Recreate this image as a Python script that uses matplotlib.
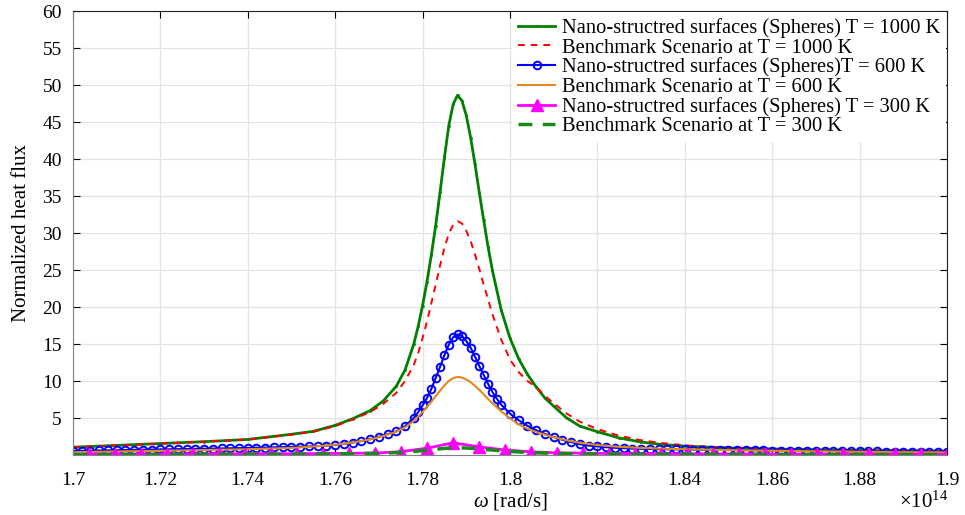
import numpy as np
import matplotlib
matplotlib.use("Agg")
import matplotlib.pyplot as plt

# frequency axis in units of 1e14 rad/s
omega = [1.700, 1.710, 1.720, 1.730, 1.740, 1.750, 1.755, 1.760, 1.764, 1.768,
         1.771, 1.774, 1.776, 1.778, 1.779, 1.780, 1.781, 1.782, 1.783, 1.784,
         1.785, 1.786, 1.787, 1.788, 1.789, 1.790, 1.791, 1.792, 1.793, 1.794,
         1.795, 1.796, 1.798, 1.800, 1.802, 1.804, 1.806, 1.808, 1.810, 1.813,
         1.816, 1.820, 1.825, 1.830, 1.835, 1.840, 1.850, 1.860, 1.870, 1.880,
         1.890, 1.900]

nano_1000 = [1.05, 1.3, 1.55, 1.8, 2.1, 2.8, 3.2, 4.0, 4.9, 6.0,
             7.3, 9.3, 11.5, 15.0, 17.4, 20.2, 23.4, 27.0, 31.0, 35.5,
             40.2, 44.5, 47.4, 48.6, 47.9, 45.9, 42.9, 39.3, 35.4, 31.7,
             28.1, 24.9, 19.6, 15.8, 13.0, 10.9, 9.2, 7.7, 6.6, 5.0,
             3.9, 3.15, 2.3, 1.75, 1.4, 1.2, 0.95, 0.8, 0.7, 0.6,
             0.55, 0.5]

bench_1000 = [1.05, 1.3, 1.55, 1.8, 2.1, 2.75, 3.15, 3.9, 4.8, 5.8,
              6.9, 8.4, 10.0, 12.2, 13.8, 15.8, 18.0, 20.5, 23.0, 25.6,
              28.0, 29.9, 31.1, 31.6, 31.3, 30.3, 28.9, 27.1, 25.1, 23.0,
              21.0, 19.0, 15.6, 12.9, 11.2, 10.0, 9.2, 8.0, 7.0, 5.6,
              4.5, 3.5, 2.6, 2.0, 1.6, 1.3, 1.0, 0.85, 0.72, 0.62,
              0.56, 0.5]

bench_600 = [0.38, 0.48, 0.57, 0.67, 0.78, 0.95, 1.15, 1.38, 1.7, 2.1,
             2.55, 3.15, 3.75, 4.6, 5.2, 5.8, 6.5, 7.2, 7.95, 8.7,
             9.4, 10.0, 10.4, 10.55, 10.47, 10.22, 9.84, 9.35, 8.8, 8.2,
             7.58, 6.98, 5.9, 4.95, 4.15, 3.55, 3.1, 2.75, 2.4, 2.0,
             1.65, 1.35, 1.1, 0.95, 0.85, 0.78, 0.66, 0.57, 0.5, 0.44,
             0.39, 0.35]

bench_300 = [0.05, 0.06, 0.07, 0.08, 0.09, 0.11, 0.13, 0.15, 0.18, 0.22,
             0.26, 0.32, 0.38, 0.48, 0.54, 0.60, 0.66, 0.72, 0.78, 0.84,
             0.89, 0.93, 0.96, 0.97, 0.96, 0.94, 0.91, 0.87, 0.82, 0.77,
             0.72, 0.67, 0.57, 0.48, 0.41, 0.35, 0.30, 0.26, 0.23, 0.19,
             0.16, 0.13, 0.11, 0.10, 0.09, 0.08, 0.07, 0.06, 0.06, 0.05,
             0.05, 0.05]

# 600 K nano-structured (every sample carries a marker)
omega_600 = [1.700, 1.702, 1.704, 1.706, 1.708, 1.710, 1.712, 1.714, 1.716, 1.718,
             1.720, 1.722, 1.724, 1.726, 1.728, 1.730, 1.732, 1.734, 1.736, 1.738,
             1.740, 1.742, 1.744, 1.746, 1.748, 1.750, 1.752, 1.754, 1.756, 1.758,
             1.760, 1.762, 1.764, 1.766, 1.768, 1.770, 1.772, 1.774, 1.776, 1.778,
             1.779, 1.780, 1.781, 1.782, 1.783, 1.784, 1.785, 1.786, 1.787, 1.788,
             1.789, 1.790, 1.791, 1.792, 1.793, 1.794, 1.795, 1.796, 1.797,
             1.798, 1.800, 1.802, 1.804, 1.806, 1.808, 1.810, 1.812, 1.814, 1.816,
             1.818, 1.820, 1.822, 1.824, 1.826, 1.828, 1.830, 1.832, 1.834, 1.836,
             1.838, 1.840, 1.842, 1.844, 1.846, 1.848, 1.850, 1.852, 1.854, 1.856,
             1.858, 1.860, 1.862, 1.864, 1.866, 1.868, 1.870, 1.872, 1.874, 1.876,
             1.878, 1.880, 1.882, 1.884, 1.886, 1.888, 1.890, 1.892, 1.894, 1.896,
             1.898, 1.900]
nano_600 = [0.55, 0.57, 0.59, 0.61, 0.63, 0.65, 0.67, 0.69, 0.71, 0.73,
            0.75, 0.77, 0.79, 0.81, 0.83, 0.85, 0.87, 0.89, 0.91, 0.93,
            0.95, 0.98, 1.01, 1.04, 1.07, 1.10, 1.13, 1.16, 1.20, 1.27,
            1.36, 1.52, 1.68, 1.88, 2.15, 2.45, 2.80, 3.2, 3.9, 5.0,
            5.8, 6.7, 7.7, 8.9, 10.4, 11.9, 13.5, 14.9, 15.9, 16.3,
            16.1, 15.4, 14.5, 13.3, 12.0, 10.8, 9.6, 8.5, 7.6,
            6.8, 5.6, 4.7, 3.95, 3.35, 2.85, 2.45, 2.05, 1.75, 1.45,
            1.28, 1.16, 1.06, 0.98, 0.92, 0.87, 0.84, 0.81, 0.79, 0.77,
            0.76, 0.75, 0.73, 0.72, 0.70, 0.69, 0.68, 0.66, 0.65, 0.63,
            0.62, 0.60, 0.59, 0.58, 0.57, 0.56, 0.55, 0.54, 0.53, 0.52,
            0.51, 0.50, 0.49, 0.48, 0.47, 0.46, 0.45, 0.44, 0.43, 0.42,
            0.41, 0.40]

# 300 K nano-structured (coarse sampling)
omega_300 = [1.7037, 1.7096, 1.7156, 1.7215, 1.7275, 1.7334, 1.7394, 1.7453, 1.7513, 1.7572,
             1.7632, 1.7691, 1.7751, 1.7810, 1.7870, 1.7929, 1.7989, 1.8048, 1.8108, 1.8167,
             1.8227, 1.8286, 1.8346, 1.8405, 1.8465, 1.8524, 1.8584, 1.8643, 1.8703, 1.8762,
             1.8822, 1.8881, 1.8941, 1.9000]
nano_300 = [0.12, 0.12, 0.13, 0.13, 0.14, 0.15, 0.16, 0.17, 0.18, 0.20,
            0.22, 0.26, 0.45, 0.92, 1.65, 1.1, 0.68, 0.42, 0.3, 0.24,
            0.2, 0.18, 0.16, 0.15, 0.14, 0.13, 0.13, 0.12, 0.12, 0.11,
            0.11, 0.11, 0.10, 0.10]

xticks = [1.70, 1.72, 1.74, 1.76, 1.78, 1.80, 1.82, 1.84, 1.86, 1.88, 1.90]
xtick_labels = ["1.7", "1.72", "1.74", "1.76", "1.78", "1.8", "1.82", "1.84", "1.86", "1.88", "1.9"]
yticks = [5, 10, 15, 20, 25, 30, 35, 40, 45, 50, 55, 60]

plt.rcParams["font.family"] = ["Liberation Serif", "DejaVu Serif"]
plt.rcParams["mathtext.fontset"] = "custom"
plt.rcParams["mathtext.it"] = "Liberation Serif:italic"
plt.rcParams["mathtext.rm"] = "Liberation Serif"

fig = plt.figure(figsize=(9.65, 5.15), dpi=100)
ax = fig.add_axes([0.0756, 0.1165, 0.9057, 0.8621])

ax.plot(omega, nano_1000, color="#008000", lw=2.0, marker=".", ms=2,
        label="Nano-structred surfaces (Spheres) T = 1000 K")
ax.plot(omega, bench_1000, color="#ff0000", lw=1.4, ls=(0, (3.5, 3)),
        label="Benchmark Scenario at T = 1000 K")
ax.plot(omega_600, nano_600, color="#0000ff", lw=1.5, marker="o", ms=5.5,
        mfc="none", mew=1.4, label="Nano-structred surfaces (Spheres)T = 600 K")
ax.plot(omega, bench_600, color="#e08a1e", lw=1.5,
        label="Benchmark Scenario at T = 600 K")
ax.plot(omega_300, nano_300, color="#ff00ff", lw=2.0, marker="^", ms=8,
        label="Nano-structred surfaces (Spheres) T = 300 K")
ax.plot(omega, bench_300, color="#1a8a1a", lw=2.5, ls=(0, (4, 3)),
        label="Benchmark Scenario at T = 300 K")

ax.set_xlim(1.7, 1.9)
ax.set_ylim(0, 60)
ax.set_xticks(xticks)
ax.set_xticklabels(xtick_labels)
ax.set_yticks(yticks)
ax.tick_params(direction="in", top=True, right=True, labelsize=14, length=5,
               width=0.8)
ax.tick_params(axis="x", pad=12)
ax.tick_params(axis="y", pad=8)
ax.grid(True, color="#e3e3e3", lw=0.9)
ax.set_axisbelow(True)
for side in ["left", "bottom"]:
    ax.spines[side].set_color("#808080")
for side in ["top", "right"]:
    ax.spines[side].set_color("#202020")

ax.set_xlabel(r"$\omega$ [rad/s]", fontsize=15, labelpad=2)
ax.set_ylabel("Normalized heat flux", fontsize=15, labelpad=8)
fig.text(0.983, 0.004, "\u00d710$^{14}$", fontsize=15, ha="right", va="bottom")

leg = ax.legend(loc="upper right", fontsize=14.8, frameon=True, fancybox=False,
                edgecolor="none", facecolor="white", framealpha=1.0,
                borderpad=0.3, labelspacing=0.0, handlelength=1.8,
                handletextpad=0.3, borderaxespad=0.05)

fig.savefig("out.png", dpi=100)
